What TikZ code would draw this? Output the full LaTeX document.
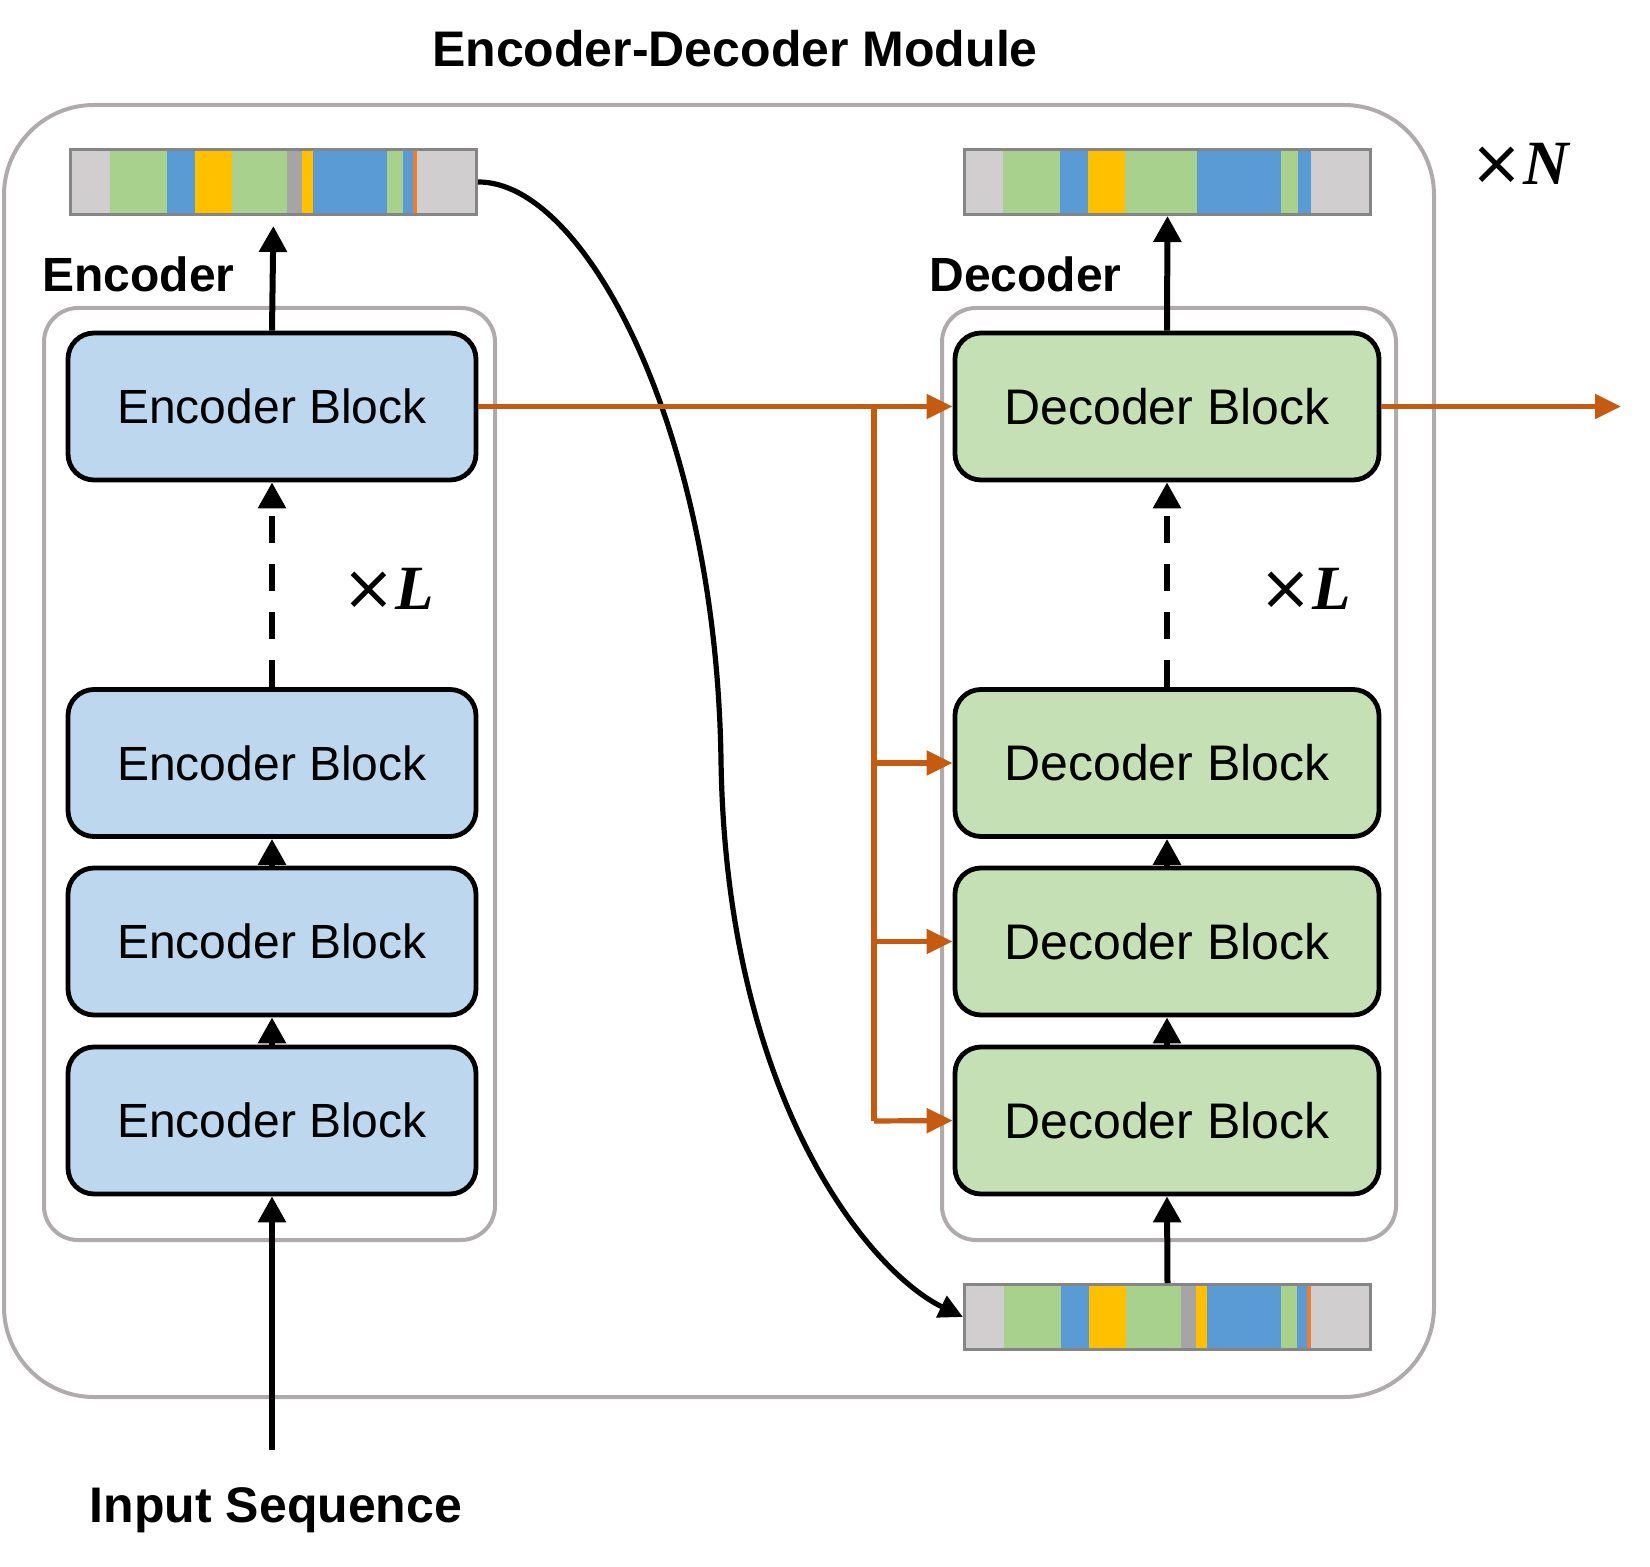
\documentclass[tikz,border=0pt]{standalone}
\usepackage{fontspec}
\setmainfont{Liberation Sans}
\newfontfamily\tms{Liberation Serif}
\newfontfamily\djv{DejaVu Sans}
\usetikzlibrary{arrows.meta}
\definecolor{encfill}{HTML}{BDD7EE}
\definecolor{decfill}{HTML}{C5E0B4}
\definecolor{framec}{HTML}{AFABAB}
\definecolor{orn}{HTML}{C55A11}
\definecolor{sgray}{HTML}{D0CECE}
\definecolor{sgreen}{HTML}{A9D18E}
\definecolor{sblue}{HTML}{5B9BD5}
\definecolor{syellow}{HTML}{FFC000}
\definecolor{sdgray}{HTML}{A5A5A5}
\definecolor{sorange}{HTML}{ED7D31}
\definecolor{barline}{HTML}{858585}
\newcommand\seqbarfill[3]{%
  \foreach \a/\b/\c in {#3} {\fill[\c] ({#1+\a*406},#2) rectangle ({#1+\b*406},#2+65);}}
\newcommand\timesx{{\djv ×}}
\begin{document}
\begin{tikzpicture}[x=0.5pt,y=-0.5pt,
  block/.style={draw=black, line width=2.4pt, rounded corners=13pt,
    minimum height=73.5pt, inner sep=0pt},
  encblock/.style={block, fill=encfill, minimum width=204pt, font=\fontsize{24}{28}\selectfont},
  decblock/.style={block, fill=decfill, minimum width=212pt, font=\fontsize{25}{29}\selectfont},
  frame/.style={draw=framec, line width=2pt},
  seqbar/.style={draw=barline, line width=1.5pt, minimum width=203pt, minimum height=32.5pt, inner sep=0pt, anchor=north west},
  blk/.style={line width=3pt, -{Triangle[length=13pt,width=13.5pt]}},
  dashedarrow/.style={blk, dash pattern=on 13.5pt off 10.5pt},
  orline/.style={draw=orn, line width=2.6pt},
  orarrow/.style={orline, -{Triangle[length=13pt,width=12pt]}},
  curvearrow/.style={line width=2.6pt, -{Triangle[length=12pt,width=11.5pt]}},
  lbl/.style={font=\bfseries\fontsize{24}{28}\selectfont, anchor=base west, inner sep=0pt},
  times/.style={font=\tms\fontsize{31.5}{36}\selectfont, anchor=base, inner sep=0pt}
]
\useasboundingbox (0,0) rectangle (1650,1567);

% frames
\draw[frame, rounded corners=45pt] (4,105) rectangle (1434,1397);
\draw[frame, rounded corners=17pt] (44,308) rectangle (495,1240);
\draw[frame, rounded corners=17pt] (942,308) rectangle (1396,1240);

% title and labels
\node[font=\bfseries\fontsize{25}{30}\selectfont, anchor=base, inner sep=0pt] (title) at (735,67) {Encoder-Decoder Module};
\node[lbl] (enclbl) at (42,292) {Encoder};
\node[lbl] (declbl) at (929,292) {Decoder};
\node[font=\bfseries\fontsize{25}{30}\selectfont, anchor=base, inner sep=0pt] (inlbl) at (276,1522) {Input Sequence};
\node[times] (xle) at (388.5,610) {\timesx\textbf{\textit{L}}};
\node[times] (xld) at (1305.5,610) {\timesx\textbf{\textit{L}}};
\node[times] (xn) at (1521,185) {\timesx\textbf{\textit{N}}};

% sequence bars
\seqbarfill{69}{148}{0/0.101/sgray,0.101/0.2406/sgreen,0.2406/0.3095/sblue,0.3095/0.4007/syellow,0.4007/0.536/sgreen,0.536/0.5747/sdgray,0.5747/0.600/syellow,0.600/0.784/sblue,0.784/0.8235/sgreen,0.8235/0.8465/sblue,0.8465/0.8563/sorange,0.8563/1/sgray}
\node[seqbar] (barA) at (69,148) {};
\seqbarfill{963}{148}{0/0.0985/sgray,0.0985/0.239/sgreen,0.239/0.308/sblue,0.308/0.399/syellow,0.399/0.577/sgreen,0.577/0.782/sblue,0.782/0.825/sgreen,0.825/0.856/sblue,0.856/1/sgray}
\node[seqbar] (barB) at (963,148) {};
\seqbarfill{963}{1283}{0/0.101/sgray,0.101/0.2406/sgreen,0.2406/0.3095/sblue,0.3095/0.4007/syellow,0.4007/0.536/sgreen,0.536/0.5747/sdgray,0.5747/0.600/syellow,0.600/0.784/sblue,0.784/0.8235/sgreen,0.8235/0.8465/sblue,0.8465/0.8563/sorange,0.8563/1/sgray}
\node[seqbar] (barC) at (963,1283) {};

% blocks
\node[encblock] (e1) at (272,406.5) {Encoder Block};
\node[encblock] (e2) at (272,763) {Encoder Block};
\node[encblock] (e3) at (272,941.5) {Encoder Block};
\node[encblock] (e4) at (272,1120.5) {Encoder Block};
\node[decblock] (d1) at (1167,406.5) {Decoder Block};
\node[decblock] (d2) at (1167,763) {Decoder Block};
\node[decblock] (d3) at (1167,941.5) {Decoder Block};
\node[decblock] (d4) at (1167,1120.5) {Decoder Block};

% black arrows
\coordinate (inp) at (272,1450);
\draw[blk] (inp) -- (e4.south);
\draw[blk] (e4.north) -- (e3.south);
\draw[blk] (e3.north) -- (e2.south);
\draw[dashedarrow] (e2.north) -- (e1.south);
\draw[blk, shorten >=5pt] (e1.north) -- (barA.south);
\draw[blk] (barC.north) -- (d4.south);
\draw[blk] (d4.north) -- (d3.south);
\draw[blk] (d3.north) -- (d2.south);
\draw[dashedarrow] (d2.north) -- (d1.south);
\draw[blk] (d1.north) -- (barB.south);

% curve
\draw[curvearrow] (barA.east) .. controls (585,181) and (716,430) .. (721,760)
  .. controls (726,1100) and (870,1272) .. (barC.west);

% orange connections
\coordinate (jtop) at (874,405);
\coordinate (jbot) at (874,1121);
\coordinate (outp) at (1621,406.5);
\draw[orarrow] (e1.east) -- (d1.west);
\draw[orline, line width=3.2pt] (jtop) -- (jbot);
\draw[orarrow] (jtop |- d2.west) -- (d2.west);
\draw[orarrow] (jtop |- d3.west) -- (d3.west);
\draw[orarrow] (jbot) -- (d4.west);
\draw[orarrow] (d1.east) -- (outp);
\end{tikzpicture}
\end{document}
